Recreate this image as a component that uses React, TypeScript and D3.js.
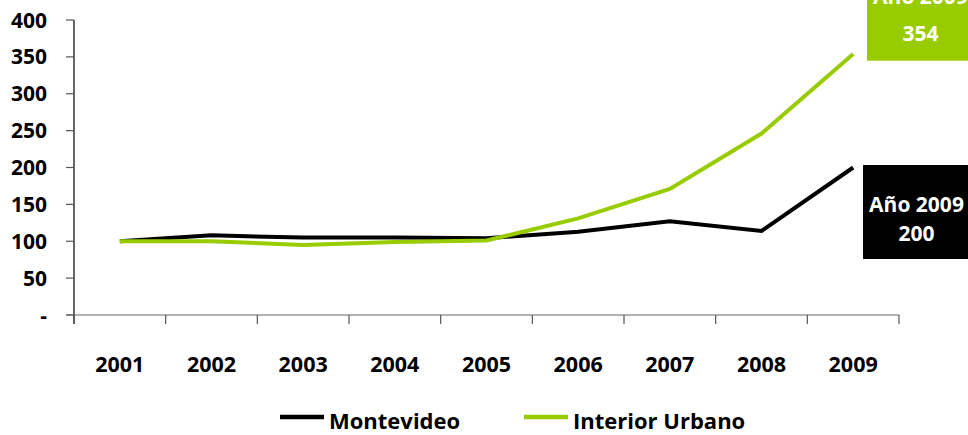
import React from "react";
import * as d3 from "d3";

const years = ["2001", "2002", "2003", "2004", "2005", "2006", "2007", "2008", "2009"];
const montevideo = [100, 108, 105, 105, 104, 113, 127, 114, 200];
const interior = [100, 100, 95, 99, 101, 131, 171, 246, 354];
const yTicks = [0, 50, 100, 150, 200, 250, 300, 350, 400];
const seriesNames = ["Montevideo", "Interior Urbano"];
const endLabels = [
  { title: "Año 2009", value: "200" },
  { title: "Año 2009", value: "354" },
];

const W = 968;
const H = 435;
const GREEN = "#99CC00";
const FONT = "'Open Sans', 'Noto Sans', sans-serif";

export default function App() {
  const x0 = 74;
  const x1 = 899;
  const y = d3.scaleLinear().domain([0, 400]).range([315, 20]);
  const x = d3.scalePoint<string>().domain(years).range([x0, x1]).padding(0.5);
  const step = x.step();
  const line = d3
    .line<number>()
    .x((_, i) => x(years[i]) as number)
    .y((d) => y(d));

  const boundaries = d3.range(years.length + 1).map((i) => x0 + i * step);

  return (
    <svg
      width={W}
      height={H}
      style={{ position: "absolute", left: 0, top: 0, background: "#fff" }}
      fontFamily={FONT}
    >
      {/* Y axis */}
      <line x1={x0} x2={x0} y1={y(400)} y2={324} stroke="#000" strokeWidth={1.2} />
      {yTicks.map((t) => (
        <g key={t}>
          <line x1={66} x2={x0} y1={y(t)} y2={y(t)} stroke="#555" strokeWidth={1.2} />
          <text
            x={47}
            y={y(t)}
            dy="0.36em"
            textAnchor="end"
            fontSize={21}
            fontWeight="bold"
            fill="#000"
          >
            {t === 0 ? "-" : t}
          </text>
        </g>
      ))}
      {/* X axis */}
      <line x1={66} x2={x1} y1={y(0)} y2={y(0)} stroke="#666" strokeWidth={1.2} />
      {boundaries.map((bx, i) => (
        <line key={i} x1={bx} x2={bx} y1={y(0)} y2={324} stroke="#555" strokeWidth={1.2} />
      ))}
      {years.map((yr) => (
        <text
          key={yr}
          x={x(yr)}
          y={371.5}
          textAnchor="middle"
          fontSize={21.5}
          fontWeight="bold"
          fill="#000"
        >
          {yr}
        </text>
      ))}

      {/* Lines */}
      <path d={line(montevideo) || ""} fill="none" stroke="#000" strokeWidth={4} />
      <path d={line(interior) || ""} fill="none" stroke={GREEN} strokeWidth={4} />

      {/* End labels */}
      <rect x={863} y={165} width={W - 863} height={94} fill="#000" />
      <text x={916.5} y={211.5} textAnchor="middle" fontSize={21} fontWeight="bold" fill="#fff">
        {endLabels[0].title}
      </text>
      <text x={916.5} y={240.5} textAnchor="middle" fontSize={21} fontWeight="bold" fill="#fff">
        {endLabels[0].value}
      </text>

      <rect x={867} y={-40} width={W - 867} height={100.7} fill={GREEN} />
      <text x={920.5} y={4} textAnchor="middle" fontSize={21} fontWeight="bold" fill="#fff">
        {endLabels[1].title}
      </text>
      <text x={920.5} y={40.5} textAnchor="middle" fontSize={21} fontWeight="bold" fill="#fff">
        {endLabels[1].value}
      </text>

      {/* Legend */}
      <line x1={280} x2={324} y1={417} y2={417} stroke="#000" strokeWidth={4.5} />
      <text x={329} y={429} fontSize={22} fontWeight="bold" fill="#000">
        {seriesNames[0]}
      </text>
      <line x1={524} x2={568} y1={417} y2={417} stroke={GREEN} strokeWidth={4.5} />
      <text x={573} y={429} fontSize={22} fontWeight="bold" fill="#000">
        {seriesNames[1]}
      </text>
    </svg>
  );
}
